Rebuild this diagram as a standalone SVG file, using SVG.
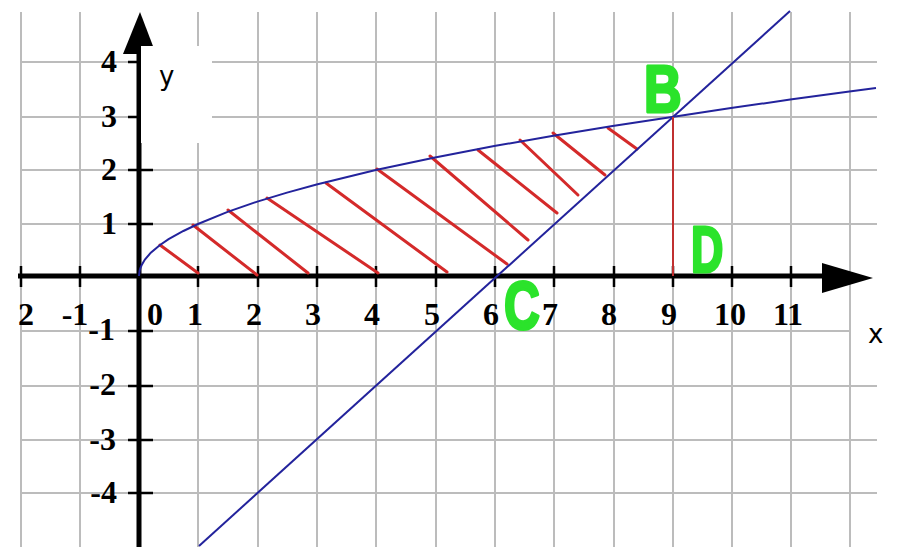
<svg xmlns="http://www.w3.org/2000/svg" width="897" height="547" viewBox="0 0 897 547">
  <style>
    .grid { stroke: #bcbcbc; stroke-width: 2; fill: none; }
    .axis { stroke: #000; stroke-width: 5; fill: none; }
    .tick { stroke: #000; stroke-width: 2.5; }
    .num { font-family: "Liberation Serif", "Times New Roman", serif; font-weight: bold; font-size: 32px; fill: #000; }
    .xn { text-anchor: middle; }
    .yn { text-anchor: end; }
    .lbl { font-family: "DejaVu Sans", "Liberation Sans", sans-serif; font-size: 26px; fill: #000; }
    .blue { stroke: #23239c; stroke-width: 2; fill: none; }
    .hatch { stroke: #d42a2a; stroke-width: 3; stroke-linecap: round; }
    .drop { stroke: #c03030; stroke-width: 2; }
    .green { font-family: "Liberation Sans", Arial, sans-serif; font-weight: bold; fill: #2be32b; stroke: #2be32b; stroke-width: 3; stroke-linejoin: round; }
    .mask { fill: #fff; }
  </style>
  <rect width="897" height="547" fill="#fff"/>

  <g id="grid">
    <path class="grid" d="M21 12V547 M80 12V547 M198 12V547 M258 12V547 M317 12V547 M376 12V547 M436 12V547 M495 12V547 M554 12V547 M614 12V547 M673 12V547 M732 12V547 M791 12V547 M850 12V547"/>
    <path class="grid" d="M20 62H877 M20 117H877 M20 170H877 M20 224H877 M20 331H877 M20 386H877 M20 440H877 M20 493H877"/>
  </g>

  <g id="axes">
    <line class="axis" x1="18" y1="276" x2="825" y2="276"/>
    <polygon points="822,263 873,278 822,293" fill="#000"/>
    <line class="axis" x1="139" y1="547" x2="139" y2="50"/>
    <polygon points="140,12 123,54 156,54" fill="#000"/>
    <path class="tick" d="M21 266V287 M80 266V287 M198 266V287 M258 266V287 M317 266V287 M376 266V287 M436 266V287 M495 266V287 M554 266V287 M614 266V287 M673 266V287 M732 266V287 M791 266V287"/>
    <path class="tick" d="M128 62H153 M128 117H153 M128 170H153 M128 224H153 M128 331H153 M128 386H153 M128 440H153 M128 493H153"/>
  </g>

  <g id="x-labels">
    <text class="num xn" x="26" y="325">2</text>
    <text class="num xn" x="75" y="325">-1</text>
    <text class="num xn" x="155" y="325">0</text>
    <text class="num xn" x="195" y="325">1</text>
    <text class="num xn" x="254" y="325">2</text>
    <text class="num xn" x="313" y="325">3</text>
    <text class="num xn" x="372" y="325">4</text>
    <text class="num xn" x="432" y="325">5</text>
    <text class="num xn" x="491" y="325">6</text>
    <text class="num xn" x="550" y="325">7</text>
    <text class="num xn" x="609" y="325">8</text>
    <text class="num xn" x="669" y="325">9</text>
    <text class="num xn" x="730" y="325">10</text>
    <text class="num xn" x="788" y="325">11</text>
  </g>

  <g id="y-labels">
    <text class="num yn" x="117" y="72">4</text>
    <text class="num yn" x="117" y="127">3</text>
    <text class="num yn" x="117" y="180">2</text>
    <text class="num yn" x="117" y="234">1</text>
    <text class="num yn" x="115" y="340">-1</text>
    <text class="num yn" x="116" y="395">-2</text>
    <text class="num yn" x="116" y="450">-3</text>
    <text class="num yn" x="117" y="503">-4</text>
  </g>

  <g id="hatching">
    <line class="hatch" x1="160" y1="245" x2="198" y2="273"/>
    <line class="hatch" x1="193" y1="225" x2="257" y2="275"/>
    <line class="hatch" x1="228" y1="210" x2="308" y2="273"/>
    <line class="hatch" x1="267" y1="198" x2="378" y2="273"/>
    <line class="hatch" x1="326" y1="183" x2="447" y2="272"/>
    <line class="hatch" x1="377" y1="169" x2="507" y2="264"/>
    <line class="hatch" x1="430" y1="156" x2="528" y2="240"/>
    <line class="hatch" x1="478" y1="150" x2="557" y2="213"/>
    <line class="hatch" x1="520" y1="140" x2="578" y2="195"/>
    <line class="hatch" x1="553" y1="133" x2="605" y2="175"/>
    <line class="hatch" x1="608" y1="128" x2="637" y2="149"/>
  </g>

  <g id="connectors">
    <path id="curve" class="blue" d="M139 276 L139.6 270.8 L140.2 268.6 L142 264.4 L144.9 259.6 L150.8 252.7 L159.7 245.2 L168.6 239.2 L183.4 231 L198 224 L227.6 211.9 L257.3 201.6 L287 192.6 L316.6 184.5 L375.8 170 L435 157.5 L494.2 146.1 L553.4 135.7 L612.6 126.1 L672 117 L731 108.1 L790.2 99.6 L849.4 91.5 L876 88"/>
    <line id="line" class="blue" x1="199" y1="546" x2="790" y2="11"/>
    <line id="drop-BD" class="drop" x1="673" y1="117" x2="673" y2="276"/>
  </g>

  <g id="label-y">
    <rect class="mask" x="141" y="46" width="71" height="97"/>
    <text class="lbl" x="159" y="85">y</text>
  </g>
  <g id="label-x">
    <rect class="mask" x="851" y="303" width="46" height="65"/>
    <text class="lbl" x="868" y="343">x</text>
  </g>

  <g id="point-B">
    <text class="green" font-size="66" transform="translate(644,112) scale(0.79,1)">B</text>
  </g>
  <g id="point-C">
    <text class="green" font-size="68" transform="translate(504,329) scale(0.73,1)">C</text>
  </g>
  <g id="point-D">
    <text class="green" font-size="64" transform="translate(691,272) scale(0.7,1)">D</text>
  </g>
</svg>
